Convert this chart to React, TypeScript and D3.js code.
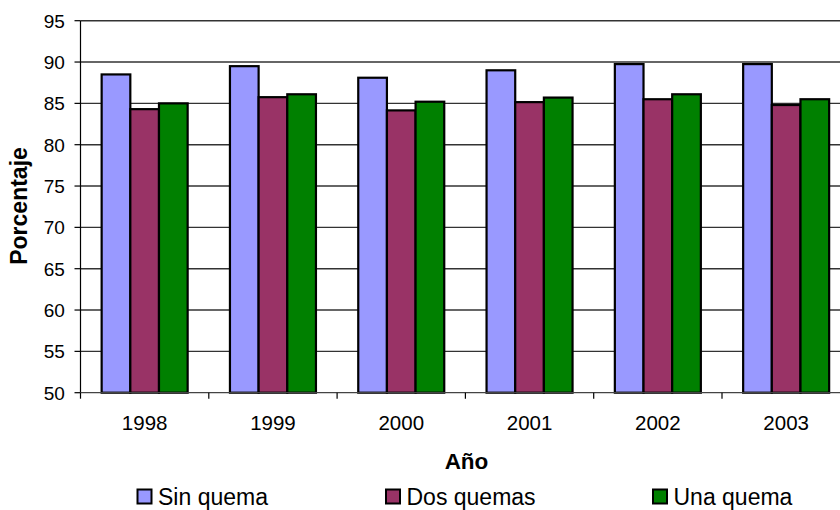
import React from "react";
import * as d3 from "d3";

const years = ["1998", "1999", "2000", "2001", "2002", "2003"];
const seriesNames = ["Sin quema", "Dos quemas", "Una quema"];
const sinQuema = [88.5, 89.5, 88.1, 89.0, 89.75, 89.75];
const dosQuemas = [84.3, 85.75, 84.15, 85.15, 85.5, 84.8];
const unaQuema = [85.0, 86.1, 85.2, 85.7, 86.1, 85.5];
const yTicks = [50, 55, 60, 65, 70, 75, 80, 85, 90, 95];
const seriesColors = ["#9999FF", "#993366", "#008000"];

const W = 840;
const H = 510;
const FONT = "'Liberation Sans', Arial, sans-serif";

export default function App() {
  const values = [sinQuema, dosQuemas, unaQuema];
  const left = 80.5;
  const band = 128.3;
  const x = d3
    .scaleBand<string>()
    .domain(years)
    .range([left, left + band * years.length])
    .paddingInner(0)
    .paddingOuter(0);
  const inner = d3
    .scaleBand<string>()
    .domain(seriesNames)
    .range([21.15, band - 21.15])
    .padding(0);
  const y = d3.scaleLinear().domain([50, 95]).range([392.7, 20.7]);
  const base = y(50);

  const legendItems = [
    { x: 137.5, text: seriesNames[0] },
    { x: 386, text: seriesNames[1] },
    { x: 653, text: seriesNames[2] },
  ];

  return (
    <svg
      width={W}
      height={H}
      style={{ position: "absolute", left: 0, top: 0, background: "#fff" }}
      fontFamily={FONT}
    >
      {/* horizontal gridlines */}
      {yTicks.slice(1).map((t) => (
        <line
          key={"g" + t}
          x1={left}
          x2={W}
          y1={y(t)}
          y2={y(t)}
          stroke="#333"
          strokeWidth={1.4}
        />
      ))}

      {/* bars */}
      {years.map((yr, i) => (
        <g key={yr} transform={`translate(${x(yr)},0)`}>
          {seriesNames.map((s, j) => (
            <rect
              key={s}
              x={inner(s)}
              y={y(values[j][i])}
              width={inner.bandwidth()}
              height={base - y(values[j][i])}
              fill={seriesColors[j]}
              stroke="#000"
              strokeWidth={2.2}
            />
          ))}
        </g>
      ))}

      {/* value axis */}
      <line x1={left} x2={left} y1={y(95)} y2={base} stroke="#000" strokeWidth={1.2} />
      {yTicks.map((t) => (
        <g key={"t" + t}>
          <line x1={left - 6} x2={left} y1={y(t)} y2={y(t)} stroke="#000" strokeWidth={1.2} />
          <text
            x={64.8}
            y={y(t)}
            dy="0.36em"
            textAnchor="end"
            fontSize={19}
            fill="#000"
          >
            {t}
          </text>
        </g>
      ))}

      {/* category axis */}
      <line x1={left} x2={W} y1={base} y2={base} stroke="#444" strokeWidth={1.3} />
      {years.map((yr, i) => (
        <line
          key={"ct" + yr}
          x1={left + band * i}
          x2={left + band * i}
          y1={base}
          y2={base + 6}
          stroke="#000"
          strokeWidth={1.2}
        />
      ))}
      {years.map((yr) => (
        <text
          key={"cl" + yr}
          x={(x(yr) as number) + band / 2}
          y={422.5}
          dy="0.36em"
          textAnchor="middle"
          fontSize={20.5}
          fill="#000"
        >
          {yr}
        </text>
      ))}

      {/* axis titles */}
      <text
        x={466.5}
        y={461}
        dy="0.36em"
        textAnchor="middle"
        fontSize={22.5}
        fontWeight="bold"
        fill="#000"
      >
        Año
      </text>
      <text
        transform={`translate(27,206) rotate(-90)`}
        textAnchor="middle"
        fontSize={23}
        fontWeight="bold"
        fill="#000"
      >
        Porcentaje
      </text>

      {/* legend */}
      {legendItems.map((it, j) => (
        <g key={it.text}>
          <rect
            x={it.x}
            y={489.5}
            width={14}
            height={14}
            fill={seriesColors[j]}
            stroke="#000"
            strokeWidth={2}
          />
          <text x={it.x + 20.5} y={496.5} dy="0.36em" fontSize={23} fill="#000">
            {it.text}
          </text>
        </g>
      ))}
    </svg>
  );
}
